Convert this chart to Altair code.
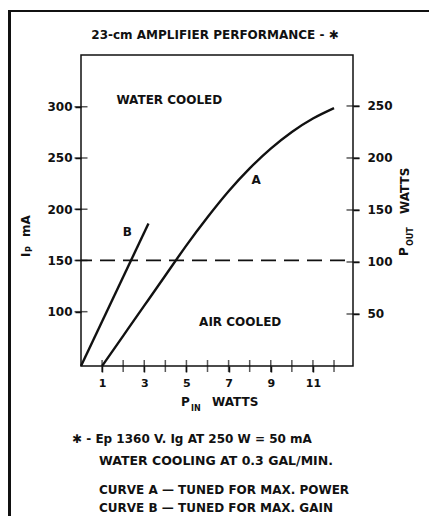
import altair as alt
import pandas as pd

# ---- data ----
pin_a = [1, 2, 3, 4, 5, 6, 7, 8, 9, 10, 11, 12]
pout_a = [0, 29, 58, 87, 116, 143, 168, 190, 209, 225, 238, 248]
pin_b = [0, 3.2]
pout_b = [0, 137]

ip_ticks = [100, 150, 200, 250, 300]
pout_ticks = [50, 100, 150, 200, 250]
pin_ticks = [1, 2, 3, 4, 5, 6, 7, 8, 9, 10, 11, 12]
pin_labels = [1, 3, 5, 7, 9, 11]
dash_ip = [150]

label_text = ["WATER COOLED", "AIR COOLED", "A", "B"]
label_pin = [4.19, 7.55, 8.31, 2.2]
label_pout = [255.8, 42.3, 178.8, 128.8]

title_text = "23-cm AMPLIFIER PERFORMANCE - \u2731"
note_lines = [
    "\u2731 - Ep  1360 V.  Ig  AT 250 W = 50 mA",
    "WATER COOLING AT 0.3 GAL/MIN.",
    "CURVE A \u2014 TUNED FOR MAX. POWER",
    "CURVE B \u2014 TUNED FOR MAX. GAIN",
]

# ---- layout ----
W, H = 272, 311
OX, OY = 81, 55  # plot origin on the page
FONT = "DejaVu Sans"
INK = "#111111"

xs = alt.Scale(domain=[0, 12.9], nice=False, zero=False)
ys_ip = alt.Scale(domain=[47, 350.5], nice=False, zero=False)
ys_w = alt.Scale(domain=[0, 299], nice=False, zero=False)

x_axis = alt.Axis(orient="bottom", values=pin_labels, title=None, domain=False, grid=False,
                  tickSize=6, tickWidth=1.5, tickColor=INK, labelFont=FONT, labelFontSize=11,
                  labelFontWeight="bold", labelColor=INK, labelPadding=5)
l_axis = alt.Axis(orient="left", values=ip_ticks, title=None, domain=False, grid=False,
                  tickSize=6, tickWidth=1.5, tickColor=INK, labelFont=FONT, labelFontSize=12,
                  labelFontWeight="bold", labelColor=INK, labelPadding=3)
r_axis = alt.Axis(orient="right", values=pout_ticks, title=None, domain=False, grid=False,
                  tickSize=6, tickWidth=1.5, tickColor=INK, labelFont=FONT, labelFontSize=12,
                  labelFontWeight="bold", labelColor=INK, labelPadding=8)

X = lambda f: alt.X(f, type="quantitative", scale=xs, axis=x_axis)

# left (Ip mA) layers
dash_df = pd.DataFrame({"ip": dash_ip})
dash = alt.Chart(dash_df).mark_rule(color=INK, strokeWidth=1.8, strokeDash=[15, 8],
                                    strokeDashOffset=15).encode(
    y=alt.Y("ip:Q", scale=ys_ip, axis=l_axis))
lt_df = pd.DataFrame({"ip": ip_ticks})
lticks = alt.Chart(lt_df).mark_tick(orient="horizontal", size=13, thickness=1.5, color=INK).encode(
    y=alt.Y("ip:Q", scale=ys_ip, axis=l_axis), x=alt.value(0))
left = alt.layer(dash, lticks)

# right (Pout watts) layers
curves_df = pd.concat([
    pd.DataFrame({"pin": pin_a, "pout": pout_a, "curve": "A"}),
    pd.DataFrame({"pin": pin_b, "pout": pout_b, "curve": "B"}),
])
curves = alt.Chart(curves_df).mark_line(color=INK, strokeWidth=2.4, interpolate="natural").encode(
    x=X("pin"), y=alt.Y("pout:Q", scale=ys_w, axis=r_axis), detail="curve:N")
lab_df = pd.DataFrame({"pin": label_pin, "pout": label_pout, "t": label_text})
labels = alt.Chart(lab_df).mark_text(font=FONT, fontSize=12, fontWeight="bold", color=INK,
                                     align="center", baseline="middle").encode(
    x=X("pin"), y=alt.Y("pout:Q", scale=ys_w, axis=r_axis), text="t:N")
rt_df = pd.DataFrame({"pout": pout_ticks})
rticks = alt.Chart(rt_df).mark_tick(orient="horizontal", size=13, thickness=1.5, color=INK).encode(
    y=alt.Y("pout:Q", scale=ys_w, axis=r_axis), x=alt.value(W))
xt_df = pd.DataFrame({"pin": pin_ticks})
xticks = alt.Chart(xt_df).mark_tick(orient="vertical", size=12, thickness=1.5, color=INK).encode(
    x=X("pin"), y=alt.value(H))
right = alt.layer(curves, labels, rticks, xticks)

one = alt.Data(values=[{}])


def txt(s, px, py, size=12, align="left", angle=0):
    kw = dict(font=FONT, fontSize=size, fontWeight="bold", color=INK, align=align,
              baseline="middle")
    if angle:
        kw["angle"] = angle
    return alt.Chart(one).mark_text(**kw).encode(
        x=alt.value(px - OX), y=alt.value(py - OY), text=alt.value(s))


texts = [
    txt(title_text, 215, 35, 12, "center"),
    # bottom axis title P_IN WATTS
    txt("P", 181, 402, 12),
    txt("IN", 191, 409, 8),
    txt("WATTS", 212, 402, 12),
    # left axis title I_P mA
    txt("I", 26, 257, 12, "left", 270),
    txt("P", 30, 252, 8, "left", 270),
    txt("mA", 26, 237, 12, "left", 270),
    # right axis title P_OUT WATTS
    txt("P", 404, 256, 12, "left", 270),
    txt("OUT", 411, 246, 8, "left", 270),
    txt("WATTS", 405, 214, 12, "left", 270),
    # notes
    txt(note_lines[0], 72, 439, 12),
    txt(note_lines[1], 99, 461, 12.5),
    txt(note_lines[2], 99, 490, 12),
    txt(note_lines[3], 99, 508, 12),
]

frame_left = alt.Chart(one).mark_rule(color=INK, strokeWidth=3).encode(
    x=alt.value(9.5 - OX), y=alt.value(10 - OY), y2=alt.value(528 - OY))
frame_top = alt.Chart(one).mark_rule(color=INK, strokeWidth=2).encode(
    x=alt.value(8 - OX), x2=alt.value(440 - OX), y=alt.value(11 - OY))

chart = alt.layer(left, right, *texts, frame_left, frame_top).resolve_scale(
    y="independent"
).properties(
    width=W, height=H,
    autosize=alt.AutoSizeParams(type="none"),
    padding={"left": OX - 8, "top": OY - 8, "right": 76, "bottom": 150},
    background="white",
).configure_view(stroke=INK, strokeWidth=1.5)

chart.save("out.html", embed_options={"renderer": "svg", "actions": False})
